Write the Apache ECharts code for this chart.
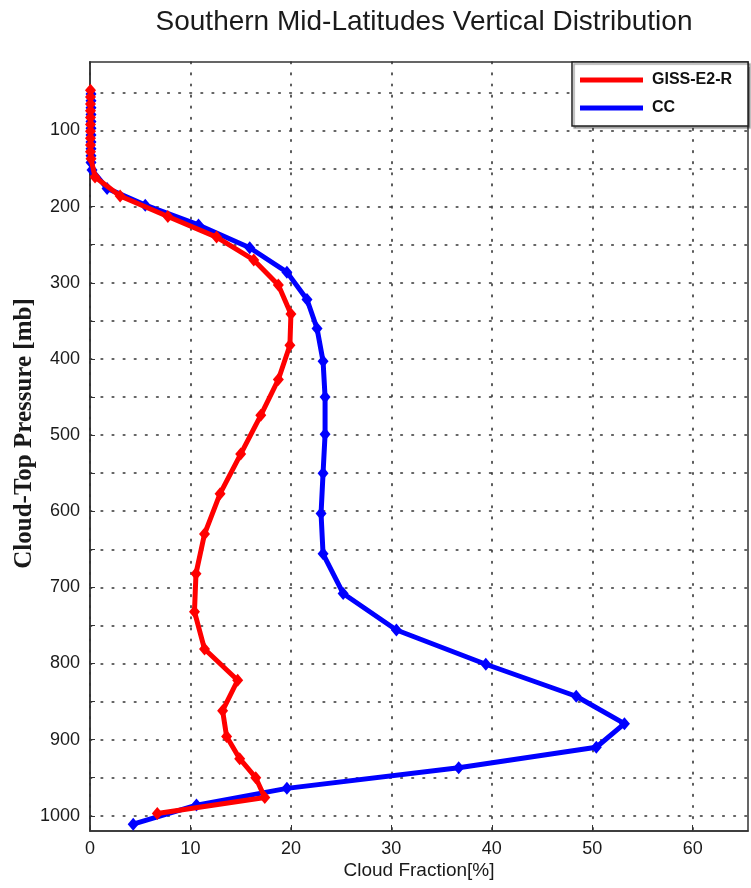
<!DOCTYPE html>
<html>
<head>
<meta charset="utf-8">
<script src="https://cdn.jsdelivr.net/npm/echarts@6/dist/echarts.min.js"></script>
<style>
html,body{margin:0;padding:0;background:#fff;}
#chart{width:751px;height:888px;}
</style>
</head>
<body>
<div id="chart"></div>
<script>
// ---- data ----
const seriesNames = ['GISS-E2-R', 'CC'];

const gissPressure = [47, 56, 65, 74, 83, 92, 101, 110, 119, 128, 137, 161, 186, 213, 240, 270, 303, 341, 382, 427, 474, 525, 577, 630, 682, 732, 781, 822, 862, 896, 925, 950, 976, 997];
const gissFraction = [0.05, 0.05, 0.05, 0.05, 0.05, 0.05, 0.05, 0.05, 0.05, 0.05, 0.1, 0.5, 3.0, 7.75, 12.6, 16.3, 18.75, 20.0, 19.9, 18.75, 17.0, 15.0, 12.95, 11.4, 10.55, 10.4, 11.4, 14.7, 13.2, 13.6, 14.9, 16.5, 17.4, 6.7];

const ccPressure = [52, 61, 70, 79, 88, 97, 106, 115, 124, 133, 142, 152, 176, 198, 224, 254, 286, 322, 360, 403, 450, 499, 550, 603, 656, 708, 756, 801, 843, 879, 910, 937, 964, 986, 1011];
const ccFraction = [0.1, 0.1, 0.1, 0.1, 0.1, 0.1, 0.1, 0.1, 0.1, 0.1, 0.1, 0.2, 1.7, 5.5, 10.8, 15.9, 19.6, 21.6, 22.6, 23.2, 23.4, 23.4, 23.2, 23.0, 23.2, 25.2, 30.5, 39.4, 48.4, 53.2, 50.4, 36.7, 19.6, 10.6, 4.3];

const xTickLabels = [0, 10, 20, 30, 40, 50, 60];
const yTickLabels = [100, 200, 300, 400, 500, 600, 700, 800, 900, 1000];
const yGridValues = [50, 100, 150, 200, 250, 300, 350, 400, 450, 500, 550, 600, 650, 700, 750, 800, 850, 900, 950, 1000];

// ---- build chart ----
const pair = (xs, ys) => xs.map((x, i) => [x, ys[i]]);

const gridLine = { show: true, lineStyle: { color: '#333', width: 1.6, type: [1.6, 9.5], cap: 'round' } };

const chart = echarts.init(document.getElementById('chart'), null, { renderer: 'canvas' });
chart.setOption({
  animation: false,
  backgroundColor: '#fff',
  title: {
    text: 'Southern Mid-Latitudes Vertical Distribution',
    left: 419, textAlign: 'center', top: 3,
    textStyle: { fontFamily: 'Liberation Sans', fontWeight: 'normal', fontSize: 28, color: '#1a1a1a' }
  },
  legend: {
    data: seriesNames,
    orient: 'vertical',
    left: 572, top: 62,
    padding: [9, 16, 9, 8],
    itemGap: 10,
    itemWidth: 63, itemHeight: 5,
    icon: 'rect',
    backgroundColor: '#fff',
    borderColor: '#222', borderWidth: 1.5,
    shadowColor: 'rgba(0,0,0,0.35)', shadowOffsetX: 2, shadowOffsetY: 2, shadowBlur: 1,
    textStyle: { fontFamily: 'Liberation Sans', fontWeight: 'bold', fontSize: 16, color: '#111', lineHeight: 18, padding: [0, 0, 0, 4] }
  },
  grid: { left: 90, top: 62, width: 658, height: 769, outerBoundsMode: 'none', containLabel: false, show: true, borderColor: '#333', borderWidth: 1.5, backgroundColor: 'transparent' },
  xAxis: {
    type: 'value', min: 0, max: 65.5, interval: 10,
    name: 'Cloud Fraction[%]', nameLocation: 'middle', nameGap: 30, nameMoveOverlap: false,
    nameTextStyle: { fontFamily: 'Liberation Sans', fontSize: 19, color: '#1a1a1a' },
    axisLine: { show: true, lineStyle: { color: '#333', width: 1.5 } },
    axisTick: { show: true, inside: true, length: 6, customValues: xTickLabels, lineStyle: { color: '#333' } },
    axisLabel: { customValues: xTickLabels, margin: 9, fontFamily: 'Liberation Sans', fontSize: 18, color: '#1a1a1a', formatter: v => String(v) },
    splitLine: gridLine
  },
  yAxis: {
    type: 'value', inverse: true, min: 10, max: 1020,
    name: 'Cloud-Top Pressure [mb]', nameLocation: 'middle', nameGap: 53, nameMoveOverlap: false,
    nameTextStyle: { fontFamily: 'Liberation Serif', fontWeight: 'bold', fontSize: 25, color: '#1a1a1a', padding: [0, 0, 0, 26] },
    axisLine: { show: true, lineStyle: { color: '#333', width: 1.5 } },
    axisTick: { show: true, inside: true, length: 5, customValues: yGridValues, lineStyle: { color: '#333' } },
    axisLabel: { customValues: yTickLabels, margin: 10, fontFamily: 'Liberation Sans', fontSize: 18, color: '#1a1a1a', formatter: v => String(v) },
    splitLine: gridLine
  },
  series: [
    {
      name: 'CC', type: 'line', data: pair(ccFraction, ccPressure),
      color: '#0000ff',
      lineStyle: { color: '#0000ff', width: 5 },
      symbol: 'diamond', symbolSize: [11, 13],
      itemStyle: { color: '#0000ff' },
      z: 3
    },
    {
      name: 'GISS-E2-R', type: 'line', data: pair(gissFraction, gissPressure),
      color: '#ff0000',
      lineStyle: { color: '#ff0000', width: 5 },
      symbol: 'diamond', symbolSize: [11, 13],
      itemStyle: { color: '#ff0000' },
      z: 4
    }
  ]
});
</script>
</body>
</html>
